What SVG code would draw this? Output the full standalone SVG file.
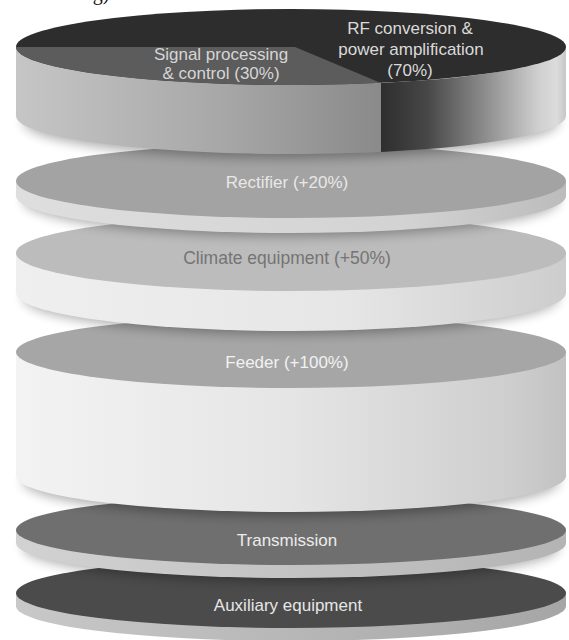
<svg xmlns="http://www.w3.org/2000/svg" width="569" height="640" viewBox="0 0 569 640">
<defs>
<style>
text{font-family:"Liberation Sans",Arial,Helvetica,sans-serif;font-size:17px;text-anchor:middle}
.shadow{fill:#000;opacity:.32;filter:url(#blur)}
</style>
<filter id="blur" x="-20%" y="-100%" width="140%" height="300%"><feGaussianBlur stdDeviation="6"/></filter>
<linearGradient id="sideSig" gradientUnits="userSpaceOnUse" x1="16" y1="0" x2="381" y2="0">
<stop offset="0" stop-color="#c6c6c6"/><stop offset="0.55" stop-color="#a8a8a8"/><stop offset="1" stop-color="#8a8a8a"/></linearGradient>
<linearGradient id="sideRF" gradientUnits="userSpaceOnUse" x1="381" y1="0" x2="566" y2="0">
<stop offset="0" stop-color="#2e2e2e"/><stop offset="0.25" stop-color="#474747"/><stop offset="0.55" stop-color="#8a8a8a"/><stop offset="0.85" stop-color="#cfcfcf"/><stop offset="0.95" stop-color="#dcdcdc"/><stop offset="1" stop-color="#c6c6c6"/></linearGradient>
<linearGradient id="rectSide" gradientUnits="userSpaceOnUse" x1="16" y1="0" x2="566" y2="0">
<stop offset="0" stop-color="#dedede"/><stop offset="0.7" stop-color="#d3d3d3"/><stop offset="1" stop-color="#bcbcbc"/></linearGradient>
<linearGradient id="climSide" gradientUnits="userSpaceOnUse" x1="16" y1="0" x2="566" y2="0">
<stop offset="0" stop-color="#efefef"/><stop offset="0.6" stop-color="#e6e6e6"/><stop offset="1" stop-color="#cdcdcd"/></linearGradient>
<linearGradient id="feedSide" gradientUnits="userSpaceOnUse" x1="16" y1="0" x2="566" y2="0">
<stop offset="0" stop-color="#f3f3f3"/><stop offset="0.5" stop-color="#e5e5e5"/><stop offset="0.9" stop-color="#cecece"/><stop offset="1" stop-color="#c2c2c2"/></linearGradient>
<linearGradient id="transSide" gradientUnits="userSpaceOnUse" x1="16" y1="0" x2="566" y2="0">
<stop offset="0" stop-color="#d2d2d2"/><stop offset="1" stop-color="#b4b4b4"/></linearGradient>
<linearGradient id="auxSide" gradientUnits="userSpaceOnUse" x1="16" y1="0" x2="566" y2="0">
<stop offset="0" stop-color="#c8c8c8"/><stop offset="1" stop-color="#a6a6a6"/></linearGradient>
</defs>
<rect width="569" height="640" fill="#ffffff"/>
<text x="101" y="-0.5" style="font-family:'Liberation Serif','Times New Roman',serif;font-size:20px;fill:#111">g)</text>

<g id="auxiliary">
<path d="M16,593 V606 A275,35 0 0,0 566,606 V593 Z" fill="url(#auxSide)"/>
<ellipse cx="291" cy="593" rx="275" ry="35" fill="#4b4b4b"/>
<text x="288" y="611" fill="#e6e6e6">Auxiliary equipment</text>
</g>

<g id="transmission">
<ellipse class="shadow" cx="291" cy="547" rx="268" ry="34"/>
<path d="M16,530 V543 A275,35 0 0,0 566,543 V530 Z" fill="url(#transSide)"/>
<ellipse cx="291" cy="530" rx="275" ry="35" fill="#6f6f6f"/>
<text x="287" y="546" fill="#ececec">Transmission</text>
</g>

<g id="feeder">
<ellipse class="shadow" cx="291" cy="481" rx="268" ry="35"/>
<path d="M16,352 V476 A275,36 0 0,0 566,476 V352 Z" fill="url(#feedSide)"/>
<ellipse cx="291" cy="352" rx="275" ry="36" fill="#a6a6a6"/>
<text x="287" y="368" fill="#f2f2f2">Feeder (+100%)</text>
</g>

<g id="climate">
<ellipse class="shadow" cx="291" cy="297" rx="268" ry="37"/>
<path d="M16,253 V293 A275,38 0 0,0 566,293 V253 Z" fill="url(#climSide)"/>
<ellipse cx="291" cy="253" rx="275" ry="38" fill="#bcbcbc"/>
<text x="287" y="264" style="font-size:17.5px" fill="#747474">Climate equipment (+50%)</text>
</g>

<g id="rectifier">
<ellipse class="shadow" cx="291" cy="200" rx="268" ry="36"/>
<path d="M16,181 V196 A275,37 0 0,0 566,196 V181 Z" fill="url(#rectSide)"/>
<ellipse cx="291" cy="181" rx="275" ry="37" fill="#a3a3a3"/>
<text x="287" y="188" fill="#e8e8e8">Rectifier (+20%)</text>
</g>

<g id="top-disc">
<ellipse class="shadow" cx="291" cy="121" rx="268" ry="37"/>
<path d="M16,47 V116 A275,38 0 0,0 381,151.9 V82.9 A275,38 0 0,1 16,47 Z" fill="url(#sideSig)"/>
<path d="M381,82.9 V151.9 A275,38 0 0,0 566,116 V47 A275,38 0 0,1 381,82.9 Z" fill="url(#sideRF)"/>
<ellipse cx="291" cy="47" rx="275" ry="38" fill="#2d2d2d"/>
<path id="signal-sector" d="M16,47 A275,38 0 0,0 381,82.9 L295,47 Z" fill="#5c5c5c"/>
<text x="221" y="60" fill="#d6d6d6">Signal processing</text>
<text x="221" y="79" fill="#d6d6d6">&amp; control (30%)</text>
<text x="410" y="34" fill="#dadada">RF conversion &amp;</text>
<text x="411" y="55" fill="#dadada">power amplification</text>
<text x="410" y="76" fill="#dadada">(70%)</text>
</g>
</svg>
